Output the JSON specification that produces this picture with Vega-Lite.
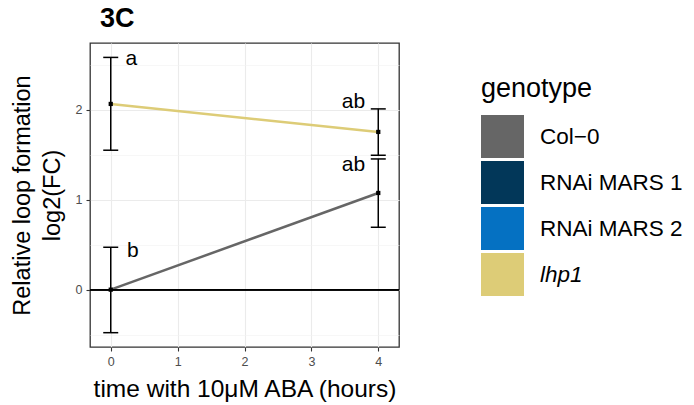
{
  "$schema": "https://vega.github.io/schema/vega-lite/v6.json",
  "autosize": {"type": "none"},
  "padding": {"left": 90, "top": 43, "right": 295, "bottom": 58},
  "width": 309,
  "height": 304,
  "background": "white",
  "title": {"text": "3C", "fontSize": 27, "fontWeight": "bold", "font": "Liberation Sans", "color": "black", "anchor": "start", "frame": "group", "dx": 10, "offset": 10},
  "data": {"values": [
    {"genotype": "Col−0", "time": 0, "mean": 0, "lower": -0.478, "upper": 0.471, "letter": "b", "lx": 0.33, "ly": 0.367},
    {"genotype": "Col−0", "time": 4, "mean": 1.074, "lower": 0.693, "upper": 1.452, "letter": "ab", "lx": 3.63, "ly": 1.322},
    {"genotype": "lhp1", "time": 0, "mean": 2.063, "lower": 1.549, "upper": 2.58, "letter": "a", "lx": 0.31, "ly": 2.494},
    {"genotype": "lhp1", "time": 4, "mean": 1.752, "lower": 1.493, "upper": 2.008, "letter": "ab", "lx": 3.63, "ly": 2.016}
  ]},
  "layer": [
    {
      "mark": {"type": "line", "strokeWidth": 2.5},
      "encoding": {
        "x": {"field": "time", "type": "quantitative", "scale": {"domain": [-0.31, 4.31], "nice": false, "zero": false},
          "axis": {"values": [0, 0.5, 1, 1.5, 2, 2.5, 3, 3.5, 4], "title": "time with 10μM ABA (hours)",
            "labelExpr": "datum.value % 1 === 0 ? format(datum.value, 'd') : ''",
            "tickOpacity": {"condition": {"test": "datum.value % 1 !== 0", "value": 0}, "value": 1},
            "gridWidth": {"condition": {"test": "datum.value % 1 !== 0", "value": 0.6}, "value": 1.1},
            "gridColor": {"condition": {"test": "datum.value % 1 !== 0", "value": "#F2F2F2"}, "value": "#EBEBEB"}}},
        "y": {"field": "mean", "type": "quantitative", "scale": {"domain": [-0.637, 2.74], "nice": false, "zero": false},
          "axis": {"values": [-0.5, 0, 0.5, 1, 1.5, 2, 2.5], "title": ["Relative loop formation", "log2(FC)"],
            "labelExpr": "datum.value % 1 === 0 ? format(datum.value, 'd') : ''",
            "tickOpacity": {"condition": {"test": "datum.value % 1 !== 0", "value": 0}, "value": 1},
            "gridWidth": {"condition": {"test": "datum.value % 1 !== 0", "value": 0.6}, "value": 1.1},
            "gridColor": {"condition": {"test": "datum.value % 1 !== 0", "value": "#F2F2F2"}, "value": "#EBEBEB"}}},
        "color": {"field": "genotype", "type": "nominal",
          "scale": {"domain": ["Col−0", "RNAi MARS 1", "RNAi MARS 2", "lhp1"], "range": ["#666666", "#023759", "#0571C2", "#DDCC77"]},
          "legend": {"title": "genotype", "orient": "none", "legendX": 391, "legendY": 33,
            "symbolType": "square", "symbolSize": 1849, "symbolStrokeWidth": 0,
            "encode": {
              "symbols": {"update": {"fill": {"scale": "color", "field": "value"}, "stroke": {"value": "transparent"}, "strokeWidth": {"value": 0}}},
              "labels": {"update": {"fontStyle": {"signal": "datum.value === 'lhp1' ? 'italic' : 'normal'"}}}
            }}}
      }
    },
    {
      "mark": {"type": "rule", "color": "black", "strokeWidth": 1.5},
      "encoding": {"y": {"datum": 0}}
    },
    {
      "mark": {"type": "rule", "color": "black", "strokeWidth": 1.5},
      "encoding": {
        "x": {"field": "time", "type": "quantitative"},
        "y": {"field": "lower", "type": "quantitative"},
        "y2": {"field": "upper"}
      }
    },
    {
      "mark": {"type": "tick", "orient": "horizontal", "size": 15, "thickness": 1.5, "color": "black", "opacity": 1},
      "encoding": {
        "x": {"field": "time", "type": "quantitative"},
        "y": {"field": "lower", "type": "quantitative"}
      }
    },
    {
      "mark": {"type": "tick", "orient": "horizontal", "size": 15, "thickness": 1.5, "color": "black", "opacity": 1},
      "encoding": {
        "x": {"field": "time", "type": "quantitative"},
        "y": {"field": "upper", "type": "quantitative"}
      }
    },
    {
      "mark": {"type": "point", "shape": "square", "filled": true, "size": 18, "color": "black", "opacity": 1},
      "encoding": {
        "x": {"field": "time", "type": "quantitative"},
        "y": {"field": "mean", "type": "quantitative"}
      }
    },
    {
      "mark": {"type": "text", "fontSize": 21, "font": "Liberation Sans", "color": "black", "align": "center", "baseline": "alphabetic"},
      "encoding": {
        "x": {"field": "lx", "type": "quantitative"},
        "y": {"field": "ly", "type": "quantitative"},
        "text": {"field": "letter"}
      }
    }
  ],
  "config": {
    "font": "Liberation Sans",
    "view": {"stroke": "#333333", "strokeWidth": 1.3},
    "axis": {
      "domain": false,
      "tickColor": "#333333", "tickSize": 4, "tickWidth": 1.1,
      "labelColor": "#4D4D4D", "labelFontSize": 12.5, "labelPadding": 4,
      "titleColor": "black", "titleFontSize": 24.5, "titleFontWeight": "normal"
    },
    "axisX": {"titlePadding": 10},
    "axisY": {"titlePadding": 11, "titleLineHeight": 30, "titleFontSize": 23.5},
    "legend": {
      "titleFontSize": 27, "titleFontWeight": "normal", "titleColor": "black", "titlePadding": 12,
      "labelFontSize": 22.5, "labelColor": "black", "labelOffset": 16, "rowPadding": 3
    }
  }
}
